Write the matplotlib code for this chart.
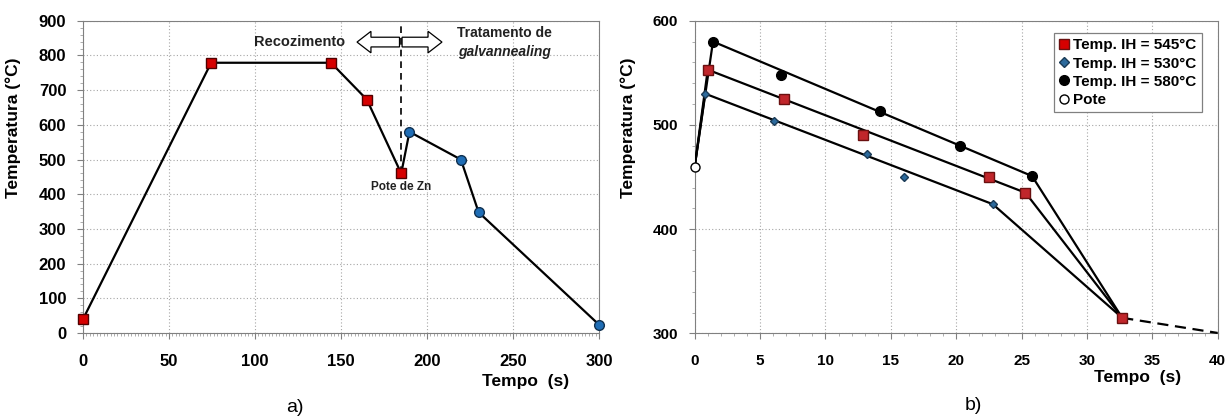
import numpy as np
import matplotlib.pyplot as plt
from matplotlib.lines import Line2D
from matplotlib.patches import FancyArrow
from matplotlib.ticker import MultipleLocator

plt.rcParams['font.family'] = ['Liberation Sans', 'DejaVu Sans']

# a) full cycle
anneal_t = [0, 74.5, 144.2, 165, 185]
anneal_T = [40, 779, 779, 673, 460]
galv_t = [189.8, 219.7, 230, 300]
galv_T = [580, 500, 348, 24]
pote_zn = 185

# b) galvannealing zoom
pote_t = [0]
pote_T = [460]
t545 = [1.0, 6.8, 12.9, 22.5, 25.3]
T545 = [553, 525, 490, 450, 435]
t530 = [0.8, 6.1, 13.2, 16.0, 22.8]
T530 = [530, 504, 472, 450, 424]
t580 = [1.4, 6.6, 14.2, 20.3, 25.8]
T580 = [580, 548, 513, 480, 451]
end_t, end_T = 32.7, 315
extra_t, extra_T = 40, 300.5

red = '#d60000'
red2 = '#c0262b'
blue = '#1f6db5'
blue2 = '#2c6a9c'
grid_kw = dict(color='#a6a6a6', linestyle=(0, (1, 2)), linewidth=0.8)

fig = plt.figure(figsize=(12.28, 4.18), dpi=100)
ax1 = fig.add_axes([0.0676, 0.2033, 0.4202, 0.747])
ax2 = fig.add_axes([0.5657, 0.2022, 0.4259, 0.7483])

for ax in (ax1, ax2):
    for s in ax.spines.values():
        s.set_color('#808080')
    ax.tick_params(which='major', length=4, color='#808080')
    ax.tick_params(which='minor', length=2.5, color='#a0a0a0')
    ax.tick_params(axis='x', pad=11)
    ax.tick_params(axis='y', pad=8)
    ax.set_axisbelow(True)

# ---- panel a
ax1.set_xlim(0, 300)
ax1.set_ylim(0, 900)
ax1.xaxis.set_major_locator(MultipleLocator(50))
ax1.xaxis.set_minor_locator(MultipleLocator(2))
ax1.yaxis.set_major_locator(MultipleLocator(100))
ax1.yaxis.set_minor_locator(MultipleLocator(20))
ax1.tick_params(labelsize=12)
ax1.grid(True, which='major', **grid_kw)

ax1.plot([pote_zn, pote_zn], [460, 888], color='black', linestyle=(0, (4, 3)), linewidth=1.2)
ax1.plot(anneal_t + galv_t, anneal_T + galv_T, color='black', linewidth=1.6, zorder=3)
ax1.plot(anneal_t, anneal_T, 's', color=red, markeredgecolor='#500000', markersize=6.5, zorder=4, clip_on=False)
ax1.plot(galv_t, galv_T, 'o', color=blue, markeredgecolor='#10304f', markersize=7, zorder=4, clip_on=False)

ax1.add_patch(FancyArrow(184, 838.6, -24.7, 0, width=28, head_width=62, head_length=8.1,
                         length_includes_head=True, facecolor='white', edgecolor='black', linewidth=0.9))
ax1.add_patch(FancyArrow(185.5, 838.6, 23.2, 0, width=28, head_width=62, head_length=8.1,
                         length_includes_head=True, facecolor='white', edgecolor='black', linewidth=0.9))
ax1.text(126, 839, 'Recozimento', ha='center', va='center', fontsize=10.5, fontweight='bold', color='#222222')
ax1.text(245, 864, 'Tratamento de', ha='center', va='center', fontsize=10, fontweight='bold', color='#222222')
ax1.text(245, 810, 'galvannealing', ha='center', va='center', fontsize=10, fontweight='bold',
         style='italic', color='#222222')
ax1.text(185, 421, 'Pote de Zn', ha='center', va='center', fontsize=8.5, fontweight='bold', color='#222222')

ax1.set_ylabel('Temperatura (°C)', fontsize=12.5, fontweight='bold')
ax1.yaxis.set_label_coords(-0.121, 0.656)

# ---- panel b
ax2.set_xlim(0, 40)
ax2.set_ylim(300, 600)
ax2.xaxis.set_major_locator(MultipleLocator(5))
ax2.xaxis.set_minor_locator(MultipleLocator(1))
ax2.yaxis.set_major_locator(MultipleLocator(100))
ax2.yaxis.set_minor_locator(MultipleLocator(20))
ax2.tick_params(labelsize=11)
ax2.grid(True, which='major', **grid_kw)

for ts, Ts in ((t545, T545), (t530, T530), (t580, T580)):
    ax2.plot([pote_t[0], ts[0], ts[-1], end_t], [pote_T[0], Ts[0], Ts[-1], end_T],
             color='black', linewidth=1.6, zorder=3)
ax2.plot([end_t, extra_t], [end_T, extra_T], color='black', linewidth=1.6,
         linestyle=(0, (5, 3)), zorder=3, clip_on=False)

ax2.plot(t545 + [end_t], T545 + [end_T], 's', color=red2, markeredgecolor='#6a1010', markersize=7, zorder=4)
ax2.plot(t530, T530, 'D', color=blue2, markeredgecolor='#1a3a55', markersize=4.5, zorder=4)
ax2.plot(t580, T580, 'o', color='black', markersize=7, zorder=4)
ax2.plot(pote_t, pote_T, 'o', color='white', markeredgecolor='black', markersize=6.5, zorder=4, clip_on=False)

handles = [
    Line2D([], [], marker='s', color=red, markeredgecolor='#6a1010', linestyle='none', markersize=7),
    Line2D([], [], marker='D', color=blue2, markeredgecolor='#1a3a55', linestyle='none', markersize=5),
    Line2D([], [], marker='o', color='black', linestyle='none', markersize=7),
    Line2D([], [], marker='o', color='white', markeredgecolor='black', linestyle='none', markersize=6.5),
]
labels = ['Temp. IH = 545°C', 'Temp. IH = 530°C', 'Temp. IH = 580°C', 'Pote']
leg = ax2.legend(handles, labels, loc='upper right', bbox_to_anchor=(0.970, 0.961), borderaxespad=0,
                 prop={'weight': 'bold', 'size': 11}, handlelength=0.7, handletextpad=0.25,
                 labelspacing=0.28, borderpad=0.35, fancybox=False, framealpha=1, edgecolor='#808080')
leg.get_frame().set_linewidth(0.9)

ax2.set_ylabel('Temperatura (°C)', fontsize=12.5, fontweight='bold')
ax2.yaxis.set_label_coords(-0.113, 0.657)

for ax in (ax1, ax2):
    for lab in ax.get_xticklabels() + ax.get_yticklabels():
        lab.set_fontweight('bold')

fig.text(0.428, 0.0885, 'Tempo  (s)', ha='center', va='center', fontsize=12.5, fontweight='bold')
fig.text(0.9267, 0.098, 'Tempo  (s)', ha='center', va='center', fontsize=12.5, fontweight='bold')
fig.text(295 / 1228, 1 - 407 / 418, 'a)', ha='center', va='center', fontsize=14)
fig.text(973 / 1228, 1 - 405 / 418, 'b)', ha='center', va='center', fontsize=14)

fig.savefig('out.png', dpi=100)
